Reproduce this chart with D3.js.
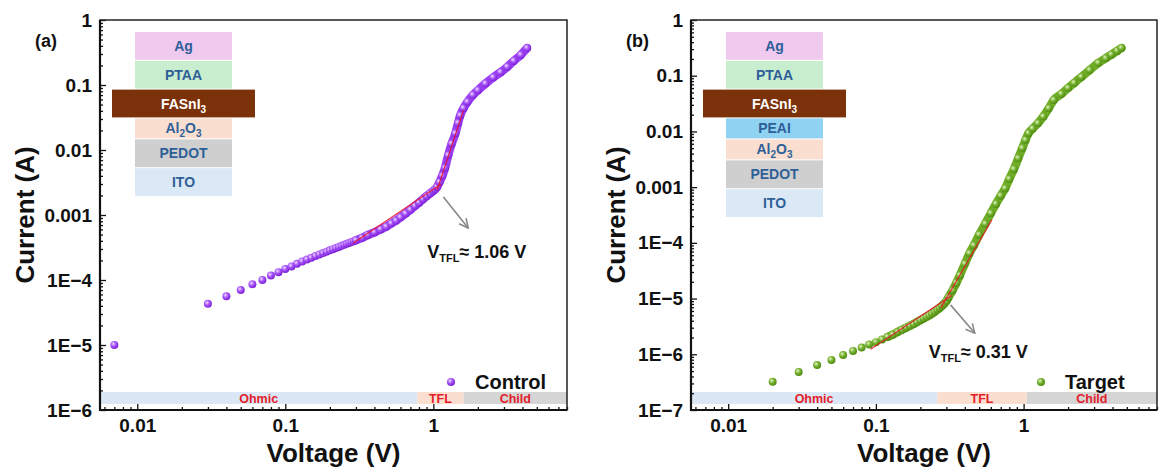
<!DOCTYPE html>
<html>
<head>
<meta charset="utf-8">
<script src="https://cdn.jsdelivr.net/npm/d3@7"></script>
<style>
  body { margin: 0; background: #fff; }
  svg { font-family: "Liberation Sans", Arial, sans-serif; }
</style>
</head>
<body>
<script>
// Control device (a): voltage (V) and current (A)
const voltsA = [0.007, 0.03, 0.04, 0.05, 0.06, 0.07, 0.08, 0.09, 0.10, 0.11, 0.12, 0.13, 0.14, 0.15, 0.16, 0.17, 0.18, 0.19, 0.20,
  0.21, 0.22, 0.23, 0.24, 0.25, 0.26, 0.27, 0.28, 0.29, 0.30, 0.33, 0.36, 0.40, 0.44, 0.48, 0.52, 0.56, 0.60, 0.65, 0.70, 0.75,
  0.80, 0.85, 0.90, 0.95, 1.00, 1.03, 1.06, 1.10, 1.15, 1.20, 1.26, 1.33, 1.41, 1.47, 1.52, 1.60, 1.70, 1.85, 2.00, 2.25, 2.54,
  2.85, 3.16, 3.50, 3.90, 4.30];
const currA = [1.0e-5, 4.3e-5, 5.6e-5, 7.0e-5, 8.6e-5, 1.0e-4, 1.17e-4, 1.32e-4, 1.48e-4, 1.62e-4, 1.78e-4, 1.93e-4, 2.07e-4, 2.2e-4,
  2.34e-4, 2.47e-4, 2.6e-4, 2.73e-4, 2.86e-4, 2.98e-4, 3.1e-4, 3.23e-4, 3.35e-4, 3.48e-4, 3.6e-4, 3.72e-4, 3.84e-4, 3.96e-4, 4.1e-4,
  4.45e-4, 4.9e-4, 5.4e-4, 6.0e-4, 6.6e-4, 7.4e-4, 8.2e-4, 9.2e-4, 1.05e-3, 1.2e-3, 1.38e-3, 1.55e-3, 1.75e-3, 1.95e-3, 2.15e-3,
  2.35e-3, 2.5e-3, 2.7e-3, 3.2e-3, 4.0e-3, 5.3e-3, 8.3e-3, 0.0125, 0.018, 0.026, 0.034, 0.044, 0.055, 0.070, 0.083, 0.105, 0.131,
  0.157, 0.19, 0.235, 0.29, 0.37];

// Target device (b)
const voltsB = [0.02, 0.03, 0.04, 0.05, 0.06, 0.07, 0.08, 0.09, 0.10, 0.11, 0.12, 0.13, 0.14, 0.15, 0.16, 0.17, 0.18, 0.19, 0.20,
  0.21, 0.22, 0.23, 0.24, 0.25, 0.26, 0.27, 0.28, 0.29, 0.30, 0.31, 0.33, 0.35, 0.37, 0.40, 0.43, 0.46, 0.50, 0.55, 0.60, 0.65,
  0.70, 0.75, 0.80, 0.86, 0.92, 0.98, 1.03, 1.08, 1.15, 1.25, 1.36, 1.48, 1.60, 1.80, 2.00, 2.20, 2.46, 2.80, 3.20, 3.60, 3.93,
  4.30, 4.60];
const currB = [3.2e-7, 4.8e-7, 6.4e-7, 7.9e-7, 9.7e-7, 1.15e-6, 1.32e-6, 1.5e-6, 1.65e-6, 1.85e-6, 2.05e-6, 2.25e-6, 2.5e-6, 2.75e-6,
  3.0e-6, 3.25e-6, 3.5e-6, 3.8e-6, 4.1e-6, 4.4e-6, 4.7e-6, 5.0e-6, 5.4e-6, 5.8e-6, 6.3e-6, 6.8e-6, 7.4e-6, 8.1e-6, 9.0e-6, 1.05e-5,
  1.4e-5, 1.9e-5, 2.6e-5, 4.2e-5, 6.5e-5, 9.0e-5, 1.4e-4, 2.2e-4, 3.4e-4, 5.0e-4, 7.0e-4, 9.5e-4, 1.4e-3, 2.1e-3, 3.3e-3, 5.0e-3,
  7.0e-3, 9.3e-3, 0.0112, 0.0140, 0.0185, 0.026, 0.0366, 0.047, 0.060, 0.074, 0.095, 0.126, 0.169, 0.206, 0.239, 0.279, 0.314];

// linear fits (two segments each), [V, I] end points
const fitsA = [[[0.288, 3.7e-4], [1.13, 3.0e-3]], [[1.06, 2.4e-3], [1.6, 0.041]]];
const fitsB = [[[0.092, 1.23e-6], [0.326, 1.14e-5]], [[0.275, 6.8e-6], [0.61, 2.6e-4]]];

// conduction regimes along the bottom
const regimeNames = ["Ohmic", "TFL", "Child"];
const regimeEdgesA = [0.0056, 0.78, 1.6, 8];
const regimeEdgesB = [0.0056, 0.26, 1.05, 8];

// device stacks, top to bottom
const layersA = ["Ag", "PTAA", "FASnI3", "Al2O3", "PEDOT", "ITO"];
const layersB = ["Ag", "PTAA", "FASnI3", "PEAI", "Al2O3", "PEDOT", "ITO"];

const xTickLabels = ["0.01", "0.1", "1"];
const yTickLabelsA = ["1", "0.1", "0.01", "0.001", "1E\u22124", "1E\u22125", "1E\u22126"];
const yTickLabelsB = ["1", "0.1", "0.01", "0.001", "1E\u22124", "1E\u22125", "1E\u22126", "1E\u22127"];

const layerFill = { Ag: "#efc9ee", PTAA: "#c9eecf", FASnI3: "#7b320a", PEAI: "#8fd2f1", Al2O3: "#fadfd0", PEDOT: "#cfcfcf", ITO: "#dbe8f6" };
const regimeFill = { Ohmic: "#dbe7f4", TFL: "#fadfd0", Child: "#d5d5d5" };

const svg = d3.select("body").append("svg")
  .attr("width", 1162)
  .attr("height", 475);

const defs = svg.append("defs");
function sphere(id, hi, mid, lo) {
  const g = defs.append("radialGradient").attr("id", id)
    .attr("cx", "38%").attr("cy", "35%").attr("r", "65%");
  g.append("stop").attr("offset", "0%").attr("stop-color", hi);
  g.append("stop").attr("offset", "50%").attr("stop-color", mid);
  g.append("stop").attr("offset", "100%").attr("stop-color", lo);
}
sphere("ballA", "#eedcff", "#a550f7", "#7d22d8");
sphere("ballB", "#e2f3c6", "#74b12c", "#4f8a14");
defs.append("marker").attr("id", "arrowhead")
  .attr("viewBox", "0 0 10 10").attr("refX", 9).attr("refY", 5)
  .attr("markerWidth", 7).attr("markerHeight", 7).attr("orient", "auto")
  .append("path").attr("d", "M1,1 L9,5 L1,9").attr("fill", "none")
  .attr("stroke", "#888").attr("stroke-width", 1.4);

const panels = [
  { tag: "(a)", left: 100, right: 567, yMin: 1e-6, volts: voltsA, curr: currA, fits: fitsA, edges: regimeEdgesA,
    layers: layersA, yLabels: yTickLabelsA, ball: "ballA", color: "#9b3ff3", lineFrom: 0.3, legend: "Control",
    vtfl: "1.06", arrow: [[1.17, 1.9e-3], [1.72, 6.3e-4]], textAt: [0.91, 2.2e-4] },
  { tag: "(b)", left: 691, right: 1157, yMin: 1e-7, volts: voltsB, curr: currB, fits: fitsB, edges: regimeEdgesB,
    layers: layersB, yLabels: yTickLabelsB, ball: "ballB", color: "#6fad27", lineFrom: 0.12, legend: "Target",
    vtfl: "0.31", arrow: [[0.32, 7.7e-6], [0.467, 2.4e-6]], textAt: [0.228, 8.6e-7] }
];

const plotTop = 20, plotBottom = 410;

panels.forEach(p => {
  const g = svg.append("g");
  const x = d3.scaleLog().domain([0.0056, 8]).range([p.left, p.right]);
  const y = d3.scaleLog().domain([p.yMin, 1]).range([plotBottom, plotTop]);

  // regime bands
  p.edges.slice(0, -1).forEach((e, i) => {
    const x0 = x(e), x1 = x(p.edges[i + 1]);
    g.append("rect").attr("x", x0).attr("y", plotBottom - 18).attr("width", x1 - x0).attr("height", 12)
      .attr("fill", regimeFill[regimeNames[i]]);
    g.append("text").attr("x", (x0 + x1) / 2).attr("y", plotBottom - 7.5)
      .attr("text-anchor", "middle").attr("font-size", 12.5).attr("font-weight", "bold")
      .attr("fill", "#e3202a").text(regimeNames[i]);
  });

  // axes: major + minor, ticks pointing inward
  const majorX = x.ticks().filter(v => Math.abs(Math.log10(v) % 1) < 1e-6);
  const minorX = x.ticks().filter(v => Math.abs(Math.log10(v) % 1) > 1e-6);
  const majorY = y.ticks().filter(v => Math.abs(Math.log10(v) % 1) < 1e-6);
  const minorY = y.ticks().filter(v => Math.abs(Math.log10(v) % 1) > 1e-6);

  const xAxis = g.append("g").attr("transform", `translate(0,${plotBottom})`)
    .call(d3.axisBottom(x).tickValues(majorX).tickSizeInner(-6).tickSizeOuter(0).tickPadding(9)
      .tickFormat((d, i) => xTickLabels[i]));
  g.append("g").attr("transform", `translate(0,${plotBottom})`)
    .call(d3.axisBottom(x).tickValues(minorX).tickSizeInner(-3).tickSizeOuter(0).tickFormat(""));
  const yAxis = g.append("g").attr("transform", `translate(${p.left},0)`)
    .call(d3.axisLeft(y).tickValues(majorY).tickSizeInner(-6).tickSizeOuter(0).tickPadding(8)
      .tickFormat((d, i) => p.yLabels[p.yLabels.length - 1 - i]));
  g.append("g").attr("transform", `translate(${p.left},0)`)
    .call(d3.axisLeft(y).tickValues(minorY).tickSizeInner(-3).tickSizeOuter(0).tickFormat(""));

  g.selectAll(".domain").remove();
  g.selectAll(".tick line").attr("stroke", "#111").attr("stroke-width", 1.3);
  [xAxis, yAxis].forEach(a => a.selectAll("text")
    .attr("font-size", 19).attr("font-weight", "bold").attr("fill", "#111")
    .attr("font-family", "Liberation Sans, Arial, sans-serif"));

  // frame
  g.append("rect").attr("x", p.left).attr("y", plotTop).attr("width", p.right - p.left).attr("height", plotBottom - plotTop)
    .attr("fill", "none").attr("stroke", "#222").attr("stroke-width", 1.5);
  g.append("path").attr("d", `M${p.left},${plotTop}V${plotBottom}H${p.right}`)
    .attr("fill", "none").attr("stroke", "#111").attr("stroke-width", 2.2);

  // device stack
  const stackL = p.left + 35, stackW = 97, rowH = 28.8;
  let yy = 32;
  p.layers.forEach(name => {
    const thin = (name === "Al2O3" || name === "PEAI");
    const h = thin ? 21 : rowH;
    const wide = name === "FASnI3";
    const rx = wide ? stackL - 23 : stackL, rw = wide ? stackW + 46 : stackW;
    g.append("rect").attr("x", rx).attr("y", yy).attr("width", rw).attr("height", h - 1)
      .attr("fill", layerFill[name]);
    const t = g.append("text").attr("x", stackL + stackW / 2).attr("y", yy + h / 2 + 4.5)
      .attr("text-anchor", "middle").attr("font-size", 14).attr("font-weight", "bold")
      .attr("fill", wide ? "#fff" : "#2e5f98");
    // chemical formula subscripts
    const parts = name.match(/[A-Za-z]+|\d+/g);
    parts.forEach((s, k) => {
      const isNum = /\d/.test(s);
      const prevNum = k > 0 && /\d/.test(parts[k - 1]);
      t.append("tspan").attr("font-size", isNum ? 10 : 14)
        .attr("dy", isNum ? 4 : (prevNum ? -4 : 0)).text(s);
    });
    yy += h;
  });

  // data: dense part drawn as a thick band, then the markers
  const pts = p.volts.map((v, i) => [v, p.curr[i]]);
  g.append("path").datum(pts.filter(d => d[0] >= p.lineFrom))
    .attr("d", d3.line().x(d => x(d[0])).y(d => y(d[1])).curve(d3.curveMonotoneX))
    .attr("fill", "none").attr("stroke", p.color).attr("stroke-width", 8.5)
    .attr("stroke-linecap", "round").attr("stroke-linejoin", "round");
  g.selectAll(".pt").data(pts).enter().append("circle")
    .attr("cx", d => x(d[0])).attr("cy", d => y(d[1])).attr("r", 4)
    .attr("fill", `url(#${p.ball})`);

  // fitted lines on top of the data
  g.selectAll(".fit").data(p.fits).enter().append("line")
    .attr("x1", d => x(d[0][0])).attr("y1", d => y(d[0][1]))
    .attr("x2", d => x(d[1][0])).attr("y2", d => y(d[1][1]))
    .attr("stroke", "#e8102a").attr("stroke-width", 1.2).attr("opacity", 0.85);

  // V_TFL annotation
  g.append("line")
    .attr("x1", x(p.arrow[0][0])).attr("y1", y(p.arrow[0][1]))
    .attr("x2", x(p.arrow[1][0])).attr("y2", y(p.arrow[1][1]))
    .attr("stroke", "#888").attr("stroke-width", 1.6).attr("marker-end", "url(#arrowhead)");
  const vt = g.append("text").attr("x", x(p.textAt[0])).attr("y", y(p.textAt[1]))
    .attr("font-size", 18).attr("font-weight", "bold").attr("fill", "#111");
  vt.append("tspan").text("V");
  vt.append("tspan").attr("font-size", 11).attr("dy", 4).text("TFL");
  vt.append("tspan").attr("dy", -4).text("\u2248 " + p.vtfl + " V");

  // legend
  const lx = p.right - 116, ly = plotBottom - 28;
  g.append("circle").attr("cx", lx).attr("cy", ly).attr("r", 4).attr("fill", `url(#${p.ball})`);
  g.append("text").attr("x", lx + 24).attr("y", ly + 7).attr("font-size", 20).attr("font-weight", "bold")
    .attr("fill", "#111").text(p.legend);

  // panel tag and axis titles
  g.append("text").attr("x", p.left - 65).attr("y", 47).attr("font-size", 18).attr("font-weight", "bold")
    .attr("fill", "#111").text(p.tag);
  g.append("text").attr("transform", `translate(${p.left - 66},${(plotTop + plotBottom) / 2}) rotate(-90)`)
    .attr("text-anchor", "middle").attr("font-size", 26).attr("font-weight", "bold")
    .attr("fill", "#111").text("Current (A)");
  g.append("text").attr("x", (p.left + p.right) / 2).attr("y", 462)
    .attr("text-anchor", "middle").attr("font-size", 26).attr("font-weight", "bold")
    .attr("fill", "#111").text("Voltage (V)");
});
</script>
</body>
</html>
